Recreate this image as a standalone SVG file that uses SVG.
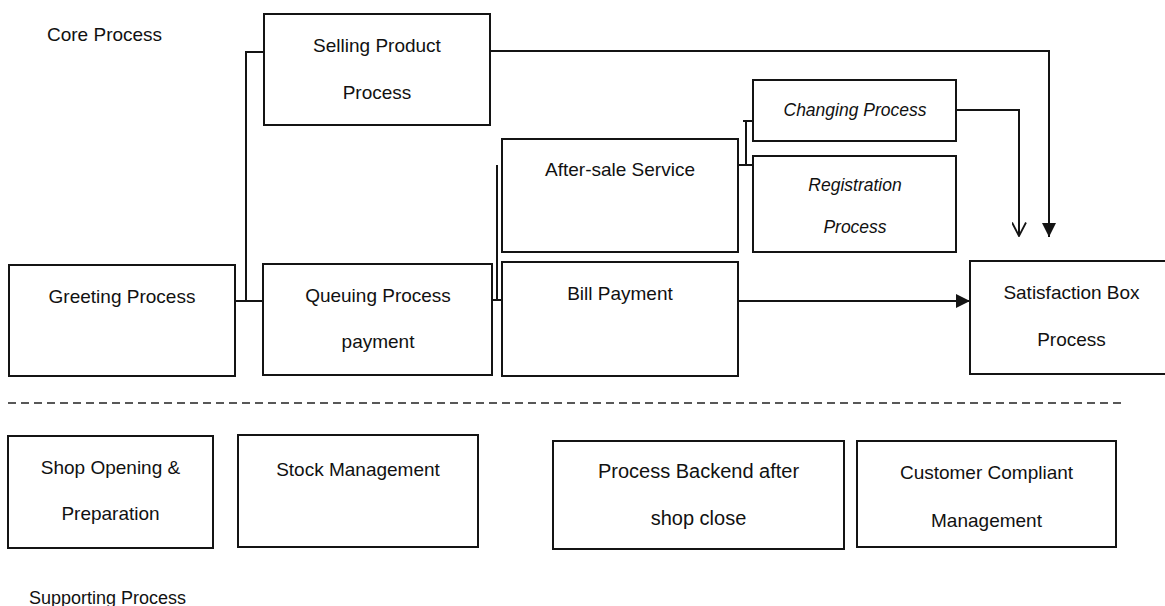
<svg xmlns="http://www.w3.org/2000/svg" width="1165" height="606" viewBox="0 0 1165 606">
  <style>
    .box { fill: #ffffff; stroke: #141414; stroke-width: 2; }
    .lbl { font-family: "Liberation Sans", Arial, sans-serif; font-size: 19px; fill: #111111; text-anchor: middle; }
    .it { font-style: italic; font-size: 17.5px; }
    .title { font-family: "Liberation Sans", Arial, sans-serif; font-size: 18px; fill: #111111; }
    .wire { fill: none; stroke: #141414; stroke-width: 2; }
    .sep { fill: none; stroke: #222222; stroke-width: 1.6; stroke-dasharray: 8 5; }
  </style>
  <defs>
    <marker id="arrow-solid" viewBox="0 0 14 14" refX="14" refY="7" markerWidth="14" markerHeight="14" markerUnits="userSpaceOnUse" orient="auto">
      <path d="M0,0 L14,7 L0,14 z" fill="#141414"/>
    </marker>
    <marker id="arrow-open" viewBox="0 0 15 15" refX="14" refY="7.5" markerWidth="15" markerHeight="15" markerUnits="userSpaceOnUse" orient="auto">
      <path d="M0.5,0.5 L14,7.5 L0.5,14.5 M0,7.5 L14,7.5" fill="none" stroke="#141414" stroke-width="1.8"/>
    </marker>
  </defs>

  <rect width="1165" height="606" fill="#ffffff"/>

  <!-- section titles -->
  <text class="title" x="47" y="41" style="font-size:19px">Core Process</text>
  <text class="title" x="29" y="604">Supporting Process</text>

  <!-- divider between core and supporting processes -->
  <line class="sep" x1="8" y1="403" x2="1125" y2="403"/>

  <!-- connectors -->
  <g id="connectors">
    <path class="wire" d="M235,301 H264"/>
    <path class="wire" d="M264,52 H246 V301"/>
    <path class="wire" d="M492,300 H502"/>
    <path class="wire" d="M497,165 V300"/>
    <path class="wire" d="M738,165 H753"/>
    <path class="wire" d="M746,121 V165"/>
    <path class="wire" d="M743,121 H753"/>
    <path class="wire" d="M490,51 H1049 V237" marker-end="url(#arrow-solid)"/>
    <path class="wire" d="M956,110 H1019 V236" marker-end="url(#arrow-open)"/>
    <path class="wire" d="M738,301 H970" marker-end="url(#arrow-solid)"/>
  </g>

  <!-- core process nodes -->
  <g id="selling">
    <rect class="box" x="264" y="14" width="226" height="111"/>
    <text class="lbl" x="377" y="52">Selling Product</text>
    <text class="lbl" x="377" y="99">Process</text>
  </g>
  <g id="greeting">
    <rect class="box" x="9" y="265" width="226" height="111"/>
    <text class="lbl" x="122" y="303">Greeting Process</text>
  </g>
  <g id="queuing">
    <rect class="box" x="263" y="264" width="229" height="111"/>
    <text class="lbl" x="378" y="302">Queuing Process</text>
    <text class="lbl" x="378" y="348">payment</text>
  </g>
  <g id="after-sale">
    <rect class="box" x="502" y="139" width="236" height="113"/>
    <text class="lbl" x="620" y="176">After-sale Service</text>
  </g>
  <g id="changing">
    <rect class="box" x="753" y="80" width="203" height="61"/>
    <text class="lbl it" x="855" y="116">Changing Process</text>
  </g>
  <g id="registration">
    <rect class="box" x="753" y="156" width="203" height="96"/>
    <text class="lbl it" x="855" y="191">Registration</text>
    <text class="lbl it" x="855" y="233">Process</text>
  </g>
  <g id="bill-payment">
    <rect class="box" x="502" y="262" width="236" height="114"/>
    <text class="lbl" x="620" y="300">Bill Payment</text>
  </g>
  <g id="satisfaction">
    <rect class="box" x="970" y="261" width="203" height="113"/>
    <text class="lbl" x="1071.5" y="299">Satisfaction Box</text>
    <text class="lbl" x="1071.5" y="346">Process</text>
  </g>

  <!-- supporting process nodes -->
  <g id="shop-opening">
    <rect class="box" x="8" y="436" width="205" height="112"/>
    <text class="lbl" x="110.5" y="474">Shop Opening &amp;</text>
    <text class="lbl" x="110.5" y="520">Preparation</text>
  </g>
  <g id="stock">
    <rect class="box" x="238" y="435" width="240" height="112"/>
    <text class="lbl" x="358" y="476">Stock Management</text>
  </g>
  <g id="backend">
    <rect class="box" x="553" y="441" width="291" height="108"/>
    <text class="lbl" x="698.5" y="478" style="font-size:20px">Process Backend after</text>
    <text class="lbl" x="698.5" y="525" style="font-size:20px">shop close</text>
  </g>
  <g id="customer-compliant">
    <rect class="box" x="857" y="441" width="259" height="106"/>
    <text class="lbl" x="986.5" y="479">Customer Compliant</text>
    <text class="lbl" x="986.5" y="527">Management</text>
  </g>
</svg>
